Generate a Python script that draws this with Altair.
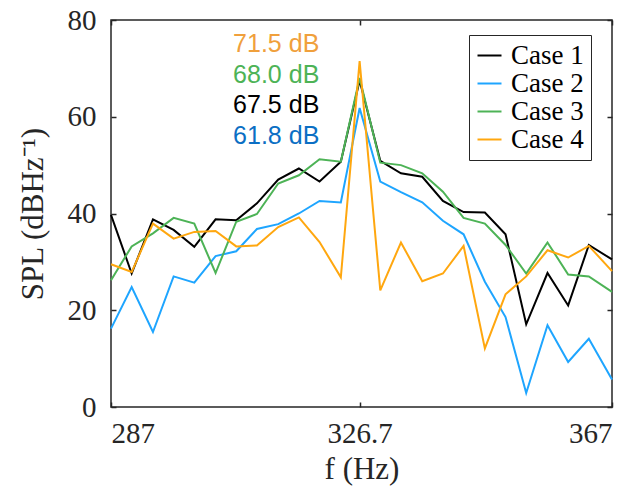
import altair as alt
import pandas as pd

# ---------------- data ----------------
freqs = [287.0, 290.3, 293.7, 297.0, 300.3, 303.7, 307.0, 310.3, 313.7, 317.0,
         320.3, 323.7, 326.7, 330.0, 333.3, 336.7, 340.0, 343.3, 346.7, 350.0,
         353.3, 356.7, 360.0, 363.3, 367.0]

case1 = [39.7, 27.6, 38.8, 36.6, 33.1, 38.8, 38.6, 42.1, 47.0, 49.3,
         46.6, 50.7, 67.5, 50.9, 48.3, 47.6, 42.6, 40.3, 40.2, 35.7,
         17.1, 27.7, 21.0, 33.5, 30.5]
case2 = [16.2, 24.8, 15.5, 27.0, 25.7, 31.2, 32.2, 36.8, 37.8, 40.0,
         42.6, 42.3, 61.8, 46.6, 44.4, 42.3, 38.5, 35.7, 25.9, 18.6,
         2.9, 16.9, 9.3, 14.1, 5.7]
case3 = [26.2, 33.2, 35.9, 39.1, 37.9, 27.7, 38.3, 39.9, 46.2, 47.9,
         51.2, 50.7, 68.0, 50.5, 50.0, 48.3, 44.5, 39.1, 37.9, 33.5,
         27.6, 34.0, 27.4, 27.0, 23.8]
case4 = [29.5, 27.9, 37.9, 34.8, 36.2, 36.4, 33.2, 33.4, 37.2, 39.2,
         34.1, 26.8, 71.5, 24.1, 34.0, 26.0, 27.6, 33.3, 12.1, 23.3,
         27.0, 32.4, 30.9, 33.3, 28.1]

cases = ["Case 1", "Case 2", "Case 3", "Case 4"]
x_ticks = [287, 326.7, 367]
y_ticks = [0, 20, 40, 60, 80]
peak_labels = ["71.5 dB", "68.0 dB", "67.5 dB", "61.8 dB"]

rows = []
for name, vals in zip(cases, [case1, case2, case3, case4]):
    for f, v in zip(freqs, vals):
        rows.append({"f": f, "SPL": v, "case": name})
df = pd.DataFrame(rows)

# ---------------- style ----------------
serif = "Liberation Serif"
sans = "Liberation Sans"
axis_col = "#262626"
line_colors = ["#000000", "#1EA5FF", "#4DB356", "#FFA70F"]
label_colors = ["#F0A03C", "#4DB356", "#000000", "#0B6FC4"]

x_scale = alt.Scale(domain=[287, 367], nice=False, zero=False)
y_scale = alt.Scale(domain=[0, 80], nice=False, zero=False)

lines = alt.Chart(df).mark_line(strokeWidth=2).encode(
    x=alt.X("f:Q", scale=x_scale,
            axis=alt.Axis(orient="bottom", values=x_ticks,
                          labelExpr="'' + datum.value",
                          title="f (Hz)", tickSize=0, domain=False, grid=False,
                          labelFont=serif, labelFontSize=29, labelPadding=12,
                          labelColor=axis_col, titleColor=axis_col,
                          titleFont=serif, titleFontSize=31,
                          titleFontWeight="normal", titlePadding=6)),
    y=alt.Y("SPL:Q", scale=y_scale,
            axis=alt.Axis(orient="left", values=y_ticks, title="SPL (dBHz⁻¹)",
                          tickSize=0, domain=False, grid=False,
                          labelFont=serif, labelFontSize=29, labelPadding=15,
                          labelColor=axis_col, titleColor=axis_col,
                          titleFont=serif, titleFontSize=31,
                          titleFontWeight="normal", titlePadding=18)),
    color=alt.Color("case:N",
                    scale=alt.Scale(domain=cases, range=line_colors),
                    legend=alt.Legend(orient="none", legendX=358, legendY=15,
                                      title=None, symbolType="stroke",
                                      symbolSize=576, symbolStrokeWidth=2,
                                      labelFont=serif, labelFontSize=27,
                                      labelColor="black", labelOffset=8,
                                      padding=7,
                                      strokeColor=axis_col, fillColor="white")),
)


def tick_layer(xo, yo):
    return alt.Chart(df).mark_point(opacity=0).encode(
        x=alt.X("f:Q", scale=x_scale,
                axis=alt.Axis(orient=xo, values=x_ticks, offset=-5, tickSize=5,
                              tickWidth=1.5, tickColor=axis_col, labels=False,
                              domain=False, grid=False, title=None)),
        y=alt.Y("SPL:Q", scale=y_scale,
                axis=alt.Axis(orient=yo, values=y_ticks, offset=-5, tickSize=5,
                              tickWidth=1.5, tickColor=axis_col, labels=False,
                              domain=False, grid=False, title=None)),
    )


ticks_bl = tick_layer("bottom", "left")
ticks_tr = tick_layer("top", "right")

ann_layers = []
for i, (txt, col) in enumerate(zip(peak_labels, label_colors)):
    one = pd.DataFrame({"label": [txt]})
    ann_layers.append(
        alt.Chart(one).mark_text(color=col, font=sans, fontSize=25,
                                 align="left", baseline="middle").encode(
            text="label:N",
            x=alt.X(datum=306.5, scale=x_scale, axis=None),
            y=alt.Y(datum=75.0 - 6.33 * i, scale=y_scale, axis=None),
        )
    )

chart = alt.layer(lines, ticks_bl, ticks_tr, *ann_layers).resolve_axis(
    x="independent", y="independent"
).properties(
    width=501, height=387,
    padding={"left": 111, "top": 20, "right": 23, "bottom": 83},
    autosize=alt.AutoSizeParams(type="none"),
).configure_view(
    stroke=axis_col, strokeWidth=1.5
).configure_legend(rowPadding=0)

chart.save("out.html", embed_options={"renderer": "svg", "actions": False})
